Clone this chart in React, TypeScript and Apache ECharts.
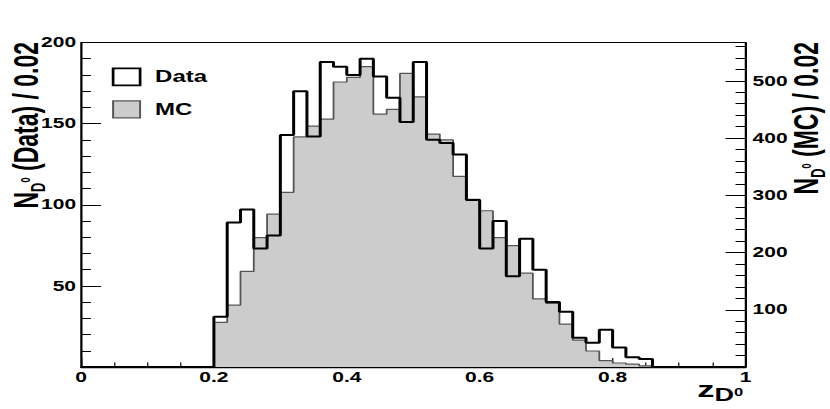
import React, { useEffect, useRef } from 'react';
import * as echarts from 'echarts';

// ---- data (bin width 0.02, left edges 0.00 ... 0.98) ----
const BIN_WIDTH = 0.02;
const X_RANGE = [0, 1];
const dataCounts = [
  0, 0, 0, 0, 0, 0, 0, 0, 0, 0,
  31, 89, 97, 73, 81, 143, 170, 142, 188, 185,
  180, 190, 179, 166, 151, 188, 140, 138, 131, 103,
  73, 90, 56, 79, 60, 40, 34, 18, 15, 23,
  12, 6, 5, 0, 0, 0, 0, 0, 0, 0,
];
const mcCounts = [
  0, 0, 0, 0, 0, 0, 0, 0, 0, 0,
  78, 108, 167, 226, 267, 305, 402, 421, 433, 498,
  506, 525, 442, 450, 513, 472, 407, 397, 333, 293,
  273, 226, 212, 164, 119, 111, 75, 47, 28, 11,
  7, 5, 2, 0, 0, 0, 0, 0, 0, 0,
];
const DATA_AXIS = { max: 200, interval: 50 };
const MC_AXIS = { max: 567, interval: 100 };
const SERIES_NAMES = ['Data', 'MC'];

// ---- layout ----
const SX = 1.5; // horizontal stretch of the original figure
const W = 830 / SX;
const H = 409;
const FONT = '"Liberation Sans", Arial, Helvetica, sans-serif';

function toSteps(counts: number[]) {
  const pts: [number, number][] = counts.map((v, i) => [+(i * BIN_WIDTH).toFixed(2), v]);
  pts.push([X_RANGE[1], 0]);
  return pts;
}

export default function App() {
  const ref = useRef<HTMLDivElement>(null);
  useEffect(() => {
    if (!ref.current) return;
    const chart = echarts.init(ref.current, null, { renderer: 'svg' });
    const tickLabel = { color: '#000', fontWeight: 'bold' as const, fontSize: 14, fontFamily: FONT };
    const titleRich = {
      n: { font: `bold 23px ${FONT}`, lineHeight: 30, fill: '#000' },
      d: { font: `bold 13px ${FONT}`, lineHeight: 17, verticalAlign: 'bottom', fill: '#000' },
      z: { font: `bold 9px ${FONT}`, lineHeight: 9, verticalAlign: 'middle', fill: '#000' },
    };
    chart.setOption({
      animation: false,
      backgroundColor: '#fff',
      grid: {
        left: 54, right: W - 746 / SX, top: 42.5, bottom: 42,
        show: true, borderColor: '#000', borderWidth: 1, backgroundColor: 'transparent',
      },
      legend: {
        orient: 'vertical', left: 74.5, top: 67.5, padding: 0,
        itemWidth: 18, itemHeight: 17, itemGap: 14, icon: 'rect',
        textStyle: { color: '#000', fontWeight: 'bold', fontSize: 16, fontFamily: FONT, padding: [0, 0, 0, 5] },
        data: [
          { name: SERIES_NAMES[0], itemStyle: { color: '#fff', borderColor: '#000', borderWidth: 1.8 } },
          { name: SERIES_NAMES[1], itemStyle: { color: '#cccccc', borderColor: '#555', borderWidth: 1.3 } },
        ],
      },
      xAxis: {
        type: 'value', min: X_RANGE[0], max: X_RANGE[1], interval: 0.2,
        axisLine: { show: true, lineStyle: { color: '#000', width: 1.3 } },
        axisTick: { show: true, inside: true, length: 9, lineStyle: { color: '#000', width: 0.8 } },
        minorTick: { show: true, splitNumber: 4, length: 4.5, lineStyle: { color: '#000', width: 0.8 } },
        axisLabel: { ...tickLabel, margin: 3 },
        splitLine: { show: false },
      },
      yAxis: [
        {
          type: 'value', min: 0, max: DATA_AXIS.max, interval: DATA_AXIS.interval, position: 'left',
          axisLine: { show: true, lineStyle: { color: '#000', width: 1 } },
          axisTick: { show: true, inside: true, length: 20 / SX, lineStyle: { color: '#000', width: 1 } },
          minorTick: { show: true, splitNumber: 5, length: 10 / SX, lineStyle: { color: '#000', width: 1 } },
          axisLabel: { ...tickLabel, margin: 3.3, formatter: (v: number) => (v === 0 ? '' : String(v)) },
          splitLine: { show: false },
        },
        {
          type: 'value', min: 0, max: MC_AXIS.max, interval: MC_AXIS.interval, position: 'right',
          axisLine: { show: true, lineStyle: { color: '#000', width: 1 } },
          axisTick: { show: true, inside: true, length: 20 / SX, lineStyle: { color: '#000', width: 1 } },
          minorTick: { show: true, splitNumber: 5, length: 10 / SX, lineStyle: { color: '#000', width: 1 } },
          axisLabel: {
            ...tickLabel, margin: 4.7,
            formatter: (v: number) => (v !== 0 && v % MC_AXIS.interval === 0 ? String(v) : ''),
          },
          splitLine: { show: false },
        },
      ],
      series: [
        {
          name: SERIES_NAMES[1], type: 'line', step: 'end', yAxisIndex: 1, symbol: 'none', z: 2,
          data: toSteps(mcCounts),
          lineStyle: { color: '#555', width: 1.2 },
          itemStyle: { color: '#cccccc' },
          areaStyle: { color: '#cccccc', opacity: 1 },
        },
        {
          name: SERIES_NAMES[0], type: 'line', step: 'end', yAxisIndex: 0, symbol: 'none', z: 3,
          data: toSteps(dataCounts),
          lineStyle: { color: '#000', width: 2 },
          itemStyle: { color: '#fff' },
        },
      ],
      graphic: [
        {
          type: 'text', x: 17, y: 42, rotation: Math.PI / 2, z: 10,
          style: {
            text: '{n|N}{d|D}{z|0}{n| (Data) / 0.02}', rich: titleRich,
            align: 'right', verticalAlign: 'middle', textAlign: 'right', textVerticalAlign: 'middle',
          },
        },
        {
          type: 'text', x: 537.4, y: 42, rotation: Math.PI / 2, z: 10,
          style: {
            text: '{n|N}{d|D}{z|0}{n| (MC) / 0.02}', rich: titleRich,
            align: 'right', verticalAlign: 'middle', textAlign: 'right', textVerticalAlign: 'middle',
          },
        },
        {
          type: 'text', x: 495.5, y: 374, z: 10,
          style: {
            text: '{a|z}{b|D}{c|0}',
            rich: {
              a: { font: `bold 23px ${FONT}`, lineHeight: 30, fill: '#000' },
              b: { font: `bold 18px ${FONT}`, lineHeight: 10.6, verticalAlign: 'bottom', fill: '#000' },
              c: { font: `bold 11px ${FONT}`, verticalAlign: 'middle', padding: [6, 0, 0, 0], fill: '#000' },
            },
            align: 'right', verticalAlign: 'top', textAlign: 'right', textVerticalAlign: 'top',
          },
        },
      ],
    });
    return () => chart.dispose();
  }, []);
  return (
    <div
      ref={ref}
      style={{
        position: 'absolute', left: 0, top: 0, width: W, height: H,
        transform: `scaleX(${SX})`, transformOrigin: '0 0',
      }}
    />
  );
}
